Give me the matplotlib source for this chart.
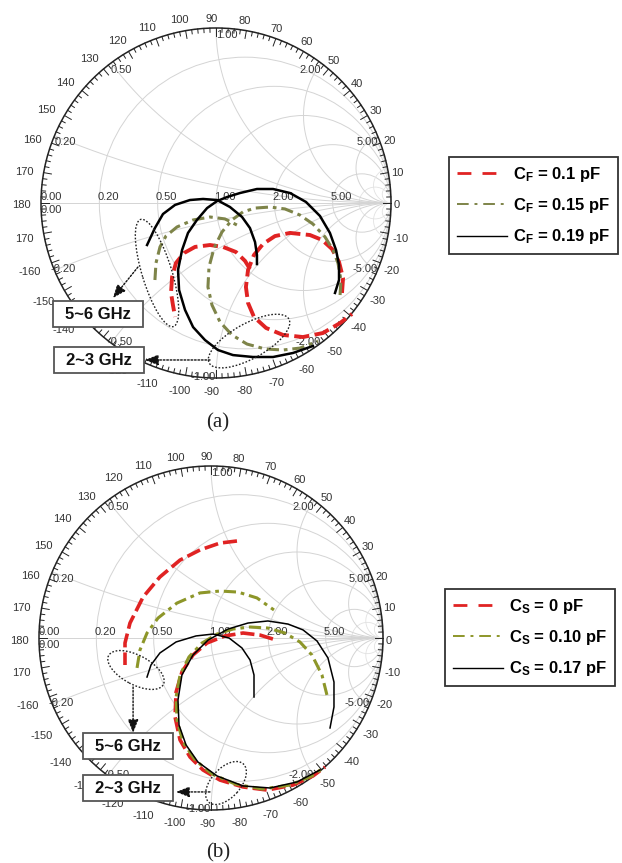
import numpy as np
import matplotlib
matplotlib.use("Agg")
import matplotlib.pyplot as plt
from matplotlib.patches import Ellipse, Rectangle, Circle
from matplotlib.lines import Line2D

plt.rcParams['font.family'] = ['Liberation Sans', 'DejaVu Sans']
plt.rcParams['mathtext.fontset'] = 'custom'
plt.rcParams['mathtext.rm'] = 'Liberation Sans:bold'
plt.rcParams['mathtext.bf'] = 'Liberation Sans:bold'
plt.rcParams['mathtext.it'] = 'Liberation Sans:bold'

# ---------------- data: reflection coefficient (Re, Im) ----------------
# Panel (a)
a_cf010_seg1 = [(0.194, -0.377), (0.166, -0.331), (0.114, -0.28), (0.04, -0.251), (-0.034, -0.24),
                (-0.12, -0.251), (-0.183, -0.286), (-0.229, -0.343), (-0.251, -0.423), (-0.257, -0.514),
                (-0.246, -0.583), (-0.234, -0.651)]
a_cf010_seg2 = [(0.72, -0.514), (0.726, -0.429), (0.703, -0.337), (0.663, -0.263), (0.606, -0.211),
                (0.537, -0.183), (0.423, -0.171), (0.337, -0.189), (0.269, -0.234), (0.217, -0.297),
                (0.183, -0.383), (0.171, -0.48), (0.183, -0.571), (0.217, -0.651), (0.286, -0.714),
                (0.383, -0.754), (0.497, -0.766), (0.611, -0.743), (0.709, -0.686), (0.777, -0.634)]
a_cf015_seg1 = [(-0.349, -0.44), (-0.343, -0.343), (-0.32, -0.251), (-0.286, -0.189), (-0.223, -0.137),
                (-0.131, -0.097), (-0.034, -0.08), (0.051, -0.091), (0.12, -0.126)]
a_cf015_seg2 = [(0.709, -0.526), (0.714, -0.44), (0.697, -0.343), (0.669, -0.269), (0.623, -0.194),
                (0.554, -0.12), (0.48, -0.069), (0.394, -0.034), (0.309, -0.023), (0.223, -0.029),
                (0.154, -0.051), (0.091, -0.097), (0.034, -0.166), (-0.011, -0.257), (-0.04, -0.366),
                (-0.046, -0.48), (-0.023, -0.583), (0.023, -0.68), (0.091, -0.754), (0.177, -0.806),
                (0.28, -0.834), (0.383, -0.84), (0.48, -0.829), (0.583, -0.789)]
a_cf019_seg1 = [(-0.394, -0.24), (-0.349, -0.143), (-0.303, -0.063), (-0.234, -0.011), (-0.149, 0.017),
                (-0.074, 0.023), (0.006, 0.017), (0.08, -0.023), (0.149, -0.08), (0.194, -0.143),
                (0.223, -0.223), (0.234, -0.297), (0.234, -0.349)]
a_cf019_seg2 = [(0.68, -0.514), (0.703, -0.44), (0.703, -0.354), (0.686, -0.269), (0.651, -0.171),
                (0.594, -0.074), (0.514, 0.006), (0.423, 0.057), (0.326, 0.08), (0.234, 0.08),
                (0.137, 0.057), (0.063, 0.034), (0.006, 0.011), (-0.051, -0.029), (-0.109, -0.097),
                (-0.16, -0.171), (-0.194, -0.269), (-0.217, -0.383), (-0.211, -0.497), (-0.177, -0.611),
                (-0.131, -0.709), (-0.063, -0.783), (0.011, -0.84), (0.097, -0.869), (0.211, -0.88),
                (0.326, -0.88), (0.44, -0.857), (0.554, -0.817)]

# Panel (b)
b_cs000_seg1 = [(0.151, 0.564), (0.052, 0.552), (-0.064, 0.512), (-0.18, 0.453), (-0.297, 0.355),
                (-0.395, 0.238), (-0.471, 0.087), (-0.5, -0.029), (-0.5, -0.157)]
b_cs000_seg2 = [(0.36, -0.006), (0.285, 0.017), (0.186, 0.029), (0.081, 0.012), (-0.023, -0.029),
                (-0.105, -0.099), (-0.169, -0.198), (-0.203, -0.314), (-0.209, -0.459), (-0.18, -0.593),
                (-0.122, -0.692), (-0.047, -0.767), (0.052, -0.826), (0.186, -0.866), (0.326, -0.884),
                (0.477, -0.855), (0.593, -0.802), (0.663, -0.75)]
b_cs010_seg1 = [(-0.43, -0.174), (-0.413, -0.07), (-0.372, 0.029), (-0.308, 0.116), (-0.198, 0.203),
                (-0.064, 0.262), (0.052, 0.273), (0.157, 0.267), (0.267, 0.233), (0.366, 0.163)]
b_cs010_seg2 = [(0.674, -0.331), (0.645, -0.215), (0.587, -0.099), (0.517, -0.023), (0.43, 0.029),
                (0.331, 0.058), (0.227, 0.064), (0.128, 0.052), (0.035, 0.023), (-0.052, -0.029),
                (-0.128, -0.11), (-0.18, -0.215), (-0.203, -0.343), (-0.198, -0.477), (-0.163, -0.605),
                (-0.093, -0.709), (0.006, -0.791), (0.14, -0.849), (0.297, -0.878), (0.459, -0.855),
                (0.587, -0.802), (0.651, -0.756)]
b_cs017_seg1 = [(-0.372, -0.227), (-0.349, -0.157), (-0.297, -0.087), (-0.203, -0.023), (-0.087, 0.012),
                (0.012, 0.023), (0.105, 0.0), (0.18, -0.058), (0.227, -0.128), (0.25, -0.215),
                (0.25, -0.343)]
b_cs017_seg2 = [(0.692, -0.523), (0.715, -0.401), (0.715, -0.256), (0.68, -0.116), (0.616, -0.017),
                (0.535, 0.047), (0.448, 0.081), (0.331, 0.099), (0.215, 0.087), (0.099, 0.052),
                (-0.017, -0.012), (-0.105, -0.099), (-0.169, -0.215), (-0.192, -0.36), (-0.186, -0.506),
                (-0.145, -0.622), (-0.076, -0.721), (0.035, -0.802), (0.186, -0.86), (0.343, -0.872),
                (0.5, -0.837), (0.634, -0.767)]

a_labels = [r'C$_{\mathrm{F}}$ = 0.1 pF', r'C$_{\mathrm{F}}$ = 0.15 pF', r'C$_{\mathrm{F}}$ = 0.19 pF']
b_labels = [r'C$_{\mathrm{S}}$ = 0 pF', r'C$_{\mathrm{S}}$ = 0.10 pF', r'C$_{\mathrm{S}}$ = 0.17 pF']

angle_ticks = list(range(-170, 190, 10))
angle_labels = ['170' if a == -170 else str(a) for a in angle_ticks]
grid_values = [0.2, 0.5, 1.0, 2.0, 5.0]
grid_text = ['0.20', '0.50', '1.00', '2.00', '5.00']

# ---------------- figure ----------------
W, H = 622, 863
fig = plt.figure(figsize=(W / 100, H / 100), dpi=100)
fig.patch.set_facecolor('white')

GRID_C = '#d4d4d4'
GRID_C2 = '#e2e2e2'
LAB_C = '#333333'
LAB_FS = 8


def make_ax(cx, cy, R):
    span = 1.3
    h = span * R
    ax = fig.add_axes([(cx - h) / W, 1 - (cy + h) / H, 2 * h / W, 2 * h / H])
    ax.set_xlim(-span, span)
    ax.set_ylim(-span, span)
    ax.axis('off')
    ax.patch.set_visible(False)
    return ax


def smith_grid(ax, R):
    # resistance circles
    for r in grid_values:
        ax.add_patch(Circle((r / (1 + r), 0), 1 / (1 + r), fill=False, ec=GRID_C, lw=0.7, zorder=1))
    ax.add_patch(Circle((10 / 11, 0), 1 / 11, fill=False, ec=GRID_C2, lw=0.6, zorder=1))
    ax.plot([-1, 1], [0, 0], color=GRID_C, lw=0.7, zorder=1)
    rr = np.concatenate([[0.0], np.logspace(-3, 4, 600)])
    for x in grid_values + [10.0, 20.0]:
        for s in (1, -1):
            z = rr + 1j * s * x
            g = (z - 1) / (z + 1)
            ax.plot(g.real, g.imag, color=GRID_C if x <= 5 else GRID_C2, lw=0.7 if x <= 5 else 0.6,
                    zorder=1)
    # outer circle
    ax.add_patch(Circle((0, 0), 1, fill=False, ec='#222222', lw=1.1, zorder=3))
    # ticks
    for d in range(0, 360, 2):
        t = np.deg2rad(d)
        L = 0.045 if d % 10 == 0 else 0.024
        ax.plot([np.cos(t), (1 - L) * np.cos(t)], [np.sin(t), (1 - L) * np.sin(t)],
                color='#222222', lw=0.7, zorder=3)
    # angle labels
    ox, oy = -4.0 / R, -2.5 / R
    for a, s in zip(angle_ticks, angle_labels):
        t = np.deg2rad(a)
        w = 5.6 * len(s)
        hgt = 9.0
        dist = R + 7 + abs(np.cos(t)) * w / 2 + abs(np.sin(t)) * hgt / 2
        ax.text(ox + dist / R * np.cos(t), oy + dist / R * np.sin(t), s, ha='center', va='center',
                fontsize=LAB_FS, color=LAB_C, zorder=4)
    # resistance labels
    for r, s in zip(grid_values, grid_text):
        g = (r - 1) / (r + 1)
        ax.text(g - 0.01, 0.006, s, ha='left', va='bottom', fontsize=LAB_FS, color=LAB_C, zorder=4)
    ax.text(-1.0, 0.008, '0.00', ha='left', va='bottom', fontsize=LAB_FS, color=LAB_C, zorder=4)
    ax.text(-1.0, -0.012, '0.00', ha='left', va='top', fontsize=LAB_FS, color=LAB_C, zorder=4)
    # reactance labels
    for x, s in zip(grid_values, grid_text):
        gr = (x * x - 1) / (x * x + 1)
        gi = 2 * x / (x * x + 1)
        ha = 'left' if x <= 1 else 'right'
        ax.text(gr, gi - 0.01, s, ha=ha, va='top', fontsize=LAB_FS, color=LAB_C, zorder=4)
        ha2 = 'left' if x < 1 else 'right'
        ax.text(gr - (0.02 if x < 1 else 0), -gi + 0.005, '-' + s, ha=ha2, va='center',
                fontsize=LAB_FS, color=LAB_C, zorder=4)


def draw_seg(ax, seg, **kw):
    arr = np.array(seg)
    return ax.plot(arr[:, 0], arr[:, 1], zorder=5, **kw)[0]


def callout(ax, R, ell_c, ell_w, ell_h, ell_ang, arr_from, arr_to, box_c, text):
    ax.add_patch(Ellipse(ell_c, ell_w, ell_h, angle=ell_ang, fill=False, ec='#222222',
                         lw=1.0, ls=(0, (1.2, 1.3)), zorder=6))
    ax.annotate('', xy=arr_to, xytext=arr_from,
                arrowprops=dict(arrowstyle='-|>,head_length=0.8,head_width=0.32', color='#111111',
                                lw=1.0, linestyle=(0, (1.2, 1.3)), shrinkA=0, shrinkB=0), zorder=7)
    bw, bh = 90 / R, 26 / R
    ax.add_patch(Rectangle((box_c[0] - bw / 2, box_c[1] - bh / 2), bw, bh, fc='white',
                           ec='#555555', lw=1.3, zorder=10))
    ax.text(box_c[0], box_c[1] - 0.003, text, ha='center', va='center', fontsize=12,
            fontweight='bold', color='#111111', zorder=11)


# ---------------- panel (a) ----------------
Ra = 175
axa = make_ax(216, 203, Ra)
smith_grid(axa, Ra)
RED = '#e02323'
OLA = '#7e8449'
OLB = '#8d9629'
st_red_a = dict(color=RED, lw=2.8, ls=(0, (3.9, 1.4)))
st_ol_a = dict(color=OLA, lw=2.2, ls=(0, (4.0, 1.6, 1.2, 1.6)))
st_bk_a = dict(color='black', lw=1.8, ls='-')
for seg in (a_cf010_seg1, a_cf010_seg2):
    draw_seg(axa, seg, **st_red_a)
for seg in (a_cf015_seg1, a_cf015_seg2):
    draw_seg(axa, seg, **st_ol_a)
for seg in (a_cf019_seg1, a_cf019_seg2):
    draw_seg(axa, seg, **st_bk_a)

callout(axa, Ra, (-0.337, -0.40), 0.64, 0.17, -73, (-0.446, -0.366), (-0.589, -0.543),
        (-0.674, -0.634), '5~6 GHz')
callout(axa, Ra, (0.189, -0.789), 0.52, 0.20, 29, (-0.034, -0.897), (-0.406, -0.897),
        (-0.669, -0.897), '2~3 GHz')

# ---------------- panel (b) ----------------
Rb = 172
axb = make_ax(211, 638, Rb)
smith_grid(axb, Rb)
st_red_b = dict(color=RED, lw=2.6, ls=(0, (3.9, 1.4)))
st_ol_b = dict(color=OLB, lw=2.2, ls=(0, (4.0, 1.6, 1.2, 1.6)))
st_bk_b = dict(color='black', lw=1.1, ls='-')
for seg in (b_cs000_seg1, b_cs000_seg2):
    draw_seg(axb, seg, **st_red_b)
for seg in (b_cs010_seg1, b_cs010_seg2):
    draw_seg(axb, seg, **st_ol_b)
for seg in (b_cs017_seg1, b_cs017_seg2):
    draw_seg(axb, seg, **st_bk_b)

callout(axb, Rb, (-0.436, -0.186), 0.36, 0.17, -28, (-0.453, -0.285), (-0.453, -0.552),
        (-0.483, -0.628), '5~6 GHz')
callout(axb, Rb, (0.087, -0.843), 0.30, 0.17, 48, (-0.006, -0.895), (-0.203, -0.895),
        (-0.483, -0.872), '2~3 GHz')

# ---------------- legends ----------------
def make_legend(labels, col_ol, anchor_px):
    handles = [Line2D([], [], color=RED, lw=2.0, ls=(0, (5, 4))),
               Line2D([], [], color=col_ol, lw=1.4, ls=(0, (6, 3, 1.5, 3))),
               Line2D([], [], color='black', lw=1.0)]
    leg = fig.legend(handles, labels, loc='upper left',
                     bbox_to_anchor=(anchor_px[0] / W, 1 - anchor_px[1] / H),
                     bbox_transform=fig.transFigure, frameon=True, fancybox=False,
                     edgecolor='#333333', framealpha=1, handlelength=3.0, handletextpad=0.4,
                     borderpad=0.45, labelspacing=0.75, borderaxespad=0,
                     prop=dict(size=12, weight='bold'))
    leg.get_frame().set_linewidth(1.3)
    return leg

make_legend(a_labels, OLA, (449, 157))
make_legend(b_labels, OLB, (445, 589))

fig.text(218 / W, 1 - 423 / H, '(a)', ha='center', va='center', fontsize=15,
         family=['Liberation Serif', 'DejaVu Serif'], color='#222222')
fig.text(218 / W, 1 - 853 / H, '(b)', ha='center', va='center', fontsize=15,
         family=['Liberation Serif', 'DejaVu Serif'], color='#222222')

fig.savefig('out.png', dpi=100, facecolor='white')
